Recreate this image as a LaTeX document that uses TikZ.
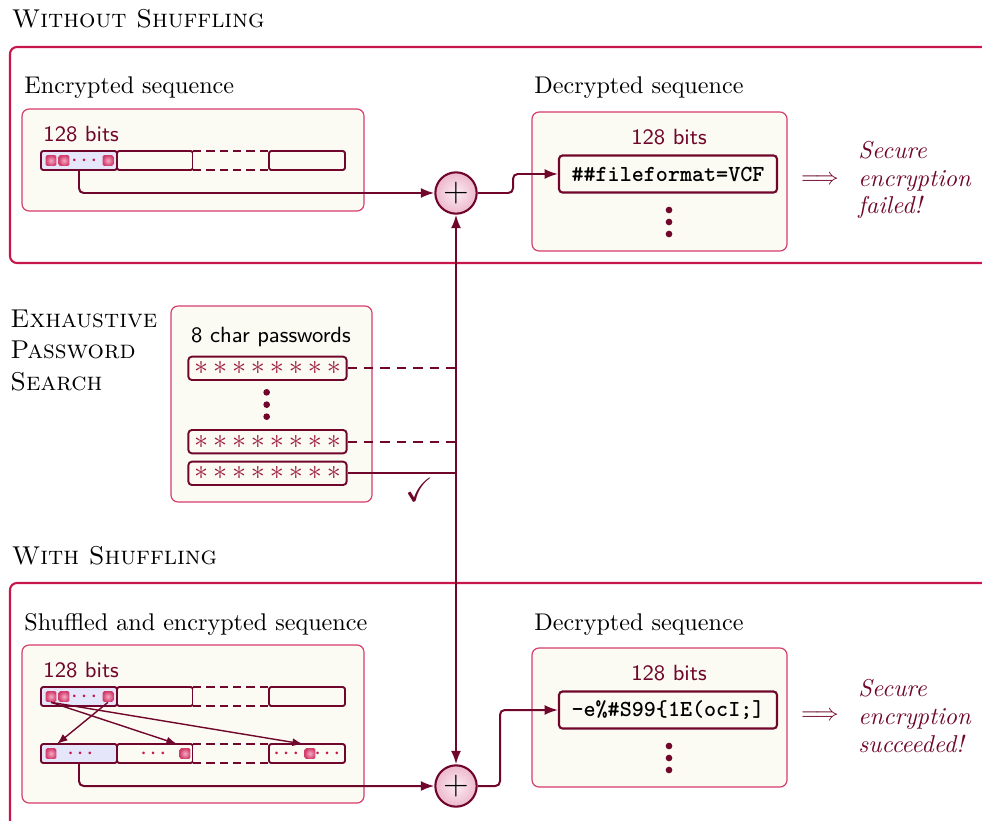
\documentclass[tikz,border=0pt]{standalone}
\usepackage{amssymb}
\usepackage{amsmath}
\usetikzlibrary{arrows.meta,calc,positioning}

\definecolor{crimson}{RGB}{200,22,76}
\definecolor{wine}{RGB}{112,6,44}
\definecolor{panelpink}{RGB}{214,60,110}
\definecolor{cream}{RGB}{251,251,243}
\definecolor{lavender}{RGB}{230,230,250}
\definecolor{starred}{RGB}{158,28,68}
\definecolor{sqin}{RGB}{246,172,198}
\definecolor{sqout}{RGB}{210,62,108}
\definecolor{xorin}{RGB}{252,236,242}
\definecolor{xorout}{RGB}{236,184,204}

\newcommand{\pwstars}{{\large$*$\hspace{2.1pt}$*$\hspace{2.1pt}$*$\hspace{2.1pt}$*$\hspace{2.1pt}$*$\hspace{2.1pt}$*$\hspace{2.1pt}$*$\hspace{2.1pt}$*$}}

\begin{document}
\begin{tikzpicture}[
    font=\fontsize{10.3}{12.4}\selectfont,
    sect/.style={draw=crimson, line width=0.9pt, rounded corners=3pt},
    sectname/.style={anchor=base west, inner sep=0, font=\fontsize{11}{13.5}\selectfont\scshape},
    boxtitle/.style={anchor=base west, inner sep=0},
    panel/.style={draw=panelpink, fill=cream, line width=0.5pt, rounded corners=3pt, inner sep=0},
    bits/.style={inner sep=0, font=\fontsize{9.4}{11}\selectfont\sffamily, text=wine},
    seg/.style={draw=wine, fill=cream, line width=0.8pt, rounded corners=1pt, minimum width=1.14cm, minimum height=0.285cm, inner sep=0, outer sep=0},
    gapseg/.style={seg, draw=none},
    bitsq/.style={shade, inner color=sqin, outer color=sqout, rounded corners=0.6pt, minimum size=0.16cm, inner sep=0},
    dotrow/.style={inner sep=0, font=\scriptsize, text=crimson},
    word/.style={draw=wine, fill=cream, line width=0.9pt, rounded corners=1.5pt, minimum width=3.27cm, minimum height=0.555cm, inner sep=0, font=\fontsize{9.8}{11}\selectfont\ttfamily\bfseries},
    pwd/.style={draw=wine, fill=cream, line width=0.8pt, rounded corners=1.5pt, minimum width=2.375cm, minimum height=0.35cm, inner sep=0, text=starred},
    xorop/.style={circle, draw=wine, line width=0.9pt, minimum size=0.62cm, inner sep=0, shade, inner color=xorin, outer color=xorout, font=\Large},
    conn/.style={draw=wine, line width=0.85pt, rounded corners=2pt, -{Latex[length=2mm,width=1.5mm]}},
    link/.style={draw=wine, line width=0.85pt},
    shuf/.style={draw=wine, line width=0.6pt, -{Latex[length=1.6mm,width=1.2mm]}},
    verdict/.style={anchor=west, inner sep=0, align=left, font=\fontsize{10.4}{11.8}\selectfont\itshape, text=wine}
]
    \useasboundingbox (0,0) rectangle (14.73,-12.3);

    % the two cases
    \draw[sect] (0.15,-0.705) rectangle (15.2,-3.945);
    \draw[sect] (0.15,-8.745) rectangle (15.2,-12.6);
    \node[sectname] (without) at (0.17,-0.42) {Without Shuffling};
    \node[sectname] (with) at (0.17,-8.46) {With Shuffling};
    \node[sectname, anchor=north west, align=left] (search) at (0.15,-4.64) {Exhaustive\\Password\\Search};

    % ciphertext panels
    \node[panel, minimum width=5.13cm, minimum height=1.53cm] (enc) at (2.895,-2.4) {};
    \node[boxtitle] (enclbl) at (0.36,-1.41) {Encrypted sequence};
    \node[bits, anchor=base west] (encbits) at (0.645,-2.115) {128 bits};
    \node[panel, minimum width=5.13cm, minimum height=2.37cm] (shf) at (2.895,-10.86) {};
    \node[boxtitle] (shflbl) at (0.36,-9.45) {Shuffled and encrypted sequence};
    \node[bits, anchor=base west] (shfbits) at (0.645,-10.155) {128 bits};

    % plaintext panels
    \node[panel, minimum width=3.825cm, minimum height=2.085cm] (dec1) at (9.8925,-2.7225) {};
    \node[boxtitle] (dec1lbl) at (8.01,-1.41) {Decrypted sequence};
    \node[bits, anchor=base] (dec1bits) at (10.035,-2.16) {128 bits};
    \node[word] (plain1) at (10.02,-2.61) {\#\#fileformat=VCF};
    \node[panel, minimum width=3.825cm, minimum height=2.085cm] (dec2) at (9.8925,-10.7625) {};
    \node[boxtitle] (dec2lbl) at (8.01,-9.45) {Decrypted sequence};
    \node[bits, anchor=base] (dec2bits) at (10.035,-10.2) {128 bits};
    \node[word] (plain2) at (10.02,-10.65) {-e\%\#S99\{1E(ocI;]};
    \foreach \y in {-3.15,-3.33,-3.51,-11.19,-11.37,-11.55}
        \fill[wine] (10.035,\y) circle (0.05);

    \node[text=wine] (imp1) at (12.3,-2.7) {$\Longrightarrow$};
    \node[verdict] (res1) at (12.87,-2.7) {Secure\\encryption\\failed!};
    \node[text=wine] (imp2) at (12.3,-10.74) {$\Longrightarrow$};
    \node[verdict] (res2) at (12.87,-10.74) {Secure\\encryption\\succeeded!};

    % password list
    \node[panel, minimum width=3.015cm, minimum height=2.94cm] (pwbox) at (4.0725,-6.06) {};
    \node[boxtitle, font=\fontsize{9.4}{11}\selectfont\sffamily] (pwlbl) at (2.86,-5.13) {8 char passwords};
    \node[pwd] (pw1) at (4.0125,-5.525) {\pwstars};
    \node[pwd] (pw2) at (4.0125,-6.625) {\pwstars};
    \node[pwd] (pw3) at (4.0125,-7.1) {\pwstars};
    \foreach \y in {-5.885,-6.07,-6.25}
        \fill[wine] (4.0,\y) circle (0.05);

    % xor gates
    \node[xorop] (xor1) at (6.84,-2.895) {$+$};
    \node[xorop] (xor2) at (6.84,-11.79) {$+$};

    % 128 bit blocks
    \foreach \b/\y in {e/-2.4075, s/-10.4475, t/-11.3025} {
        \node[seg, fill=lavender] (\b1) at (1.185,\y) {};
        \node[seg, right=0pt of \b1] (\b2) {};
        \node[gapseg, right=0pt of \b2] (\b3) {};
        \node[seg, right=0pt of \b3] (\b4) {};
        \draw[wine, line width=0.8pt, dash pattern=on 3.5pt off 2.2pt]
            (\b3.north west) -- (\b3.north east) (\b3.south west) -- (\b3.south east);
    }
    \foreach \n/\x/\y in {ea/0.765/-2.4075, eb/0.96/-2.4075, ec/1.62/-2.4075,
                          sa/0.765/-10.4475, sb/0.96/-10.4475, sc/1.62/-10.4475,
                          ta/0.765/-11.3025, tb/2.775/-11.3025, tc/4.65/-11.3025}
        \node[bitsq] (\n) at (\x,\y) {};
    \foreach \x/\y [count=\i] in {1.29/-2.4075, 1.29/-10.4475, 1.23/-11.3025,
                                  2.325/-11.3025, 4.32/-11.3025, 4.935/-11.3025}
        \node[dotrow] (dots\i) at (\x,\y) {$\boldsymbol{\cdots}$};

    % key stream and data paths
    \coordinate (hub) at (xor1 |- pw3);
    \draw[link, dash pattern=on 4pt off 3pt] (pw1) -- (pw1 -| hub);
    \draw[link, dash pattern=on 4pt off 3pt] (pw2) -- (pw2 -| hub);
    \draw[link] (pw3) -- (hub);
    \draw[conn] (hub) -- (xor1);
    \draw[conn] (hub) -- (xor2);
    \node[text=wine, font=\Large] (tick) at (6.3,-7.35) {$\checkmark$};

    \draw[conn] (e1.south) |- (xor1);
    \draw[conn] (xor1) -- ++(0.855,0) |- (plain1);
    \draw[conn] (t1.south) |- (xor2);
    \draw[conn] (xor2) -- ++(0.66,0) |- (plain2);

    % shuffled bits
    \draw[shuf] (sa.south) -- ($(tb |- t2.north)+(-0.12,0)$);
    \draw[shuf] (sa.south) -- ($(tc |- t4.north)+(-0.105,0)$);
    \draw[shuf] (sc.south) -- ($(ta |- t1.north)+(0.09,0)$);
\end{tikzpicture}
\end{document}
